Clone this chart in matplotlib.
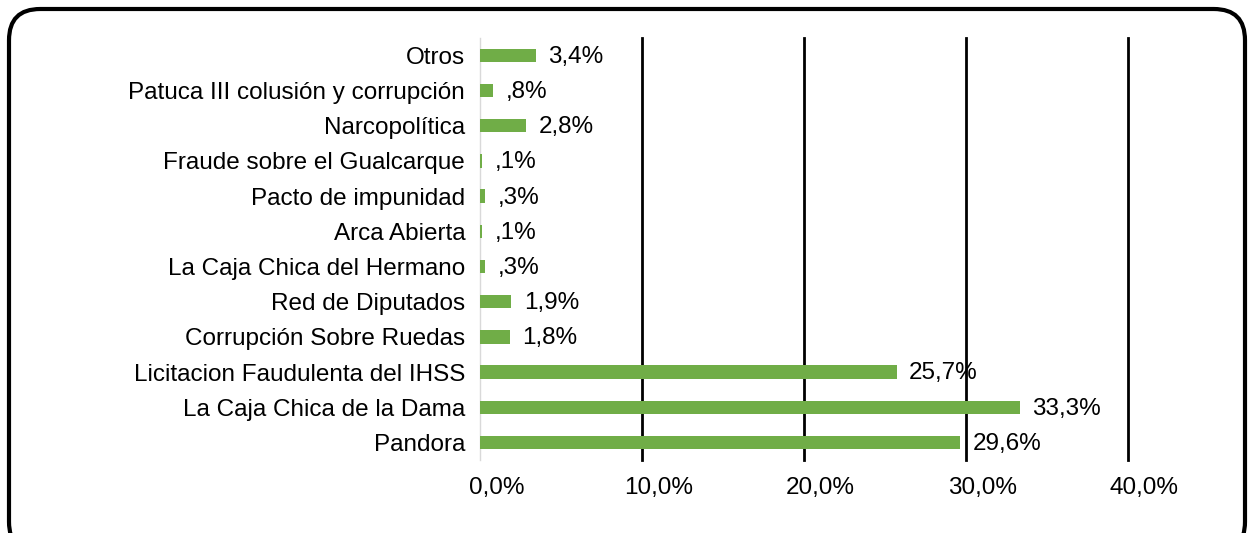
import matplotlib
matplotlib.use("Agg")
import matplotlib.pyplot as plt
from matplotlib.patches import FancyBboxPatch
from matplotlib.ticker import FuncFormatter
from matplotlib.transforms import ScaledTranslation

plt.rcParams['font.family'] = ['Liberation Sans', 'DejaVu Sans']

categorias = [
    "Otros",
    "Patuca III colusión y corrupción",
    "Narcopolítica",
    "Fraude sobre el Gualcarque",
    "Pacto de impunidad",
    "Arca Abierta",
    "La Caja Chica del Hermano",
    "Red de Diputados",
    "Corrupción Sobre Ruedas",
    "Licitacion Faudulenta del IHSS",
    "La Caja Chica de la Dama",
    "Pandora",
]
valores = [3.4, 0.8, 2.8, 0.1, 0.3, 0.1, 0.3, 1.9, 1.8, 25.7, 33.3, 29.6]
etiquetas = ["3,4%", ",8%", "2,8%", ",1%", ",3%", ",1%", ",3%", "1,9%", "1,8%",
             "25,7%", "33,3%", "29,6%"]
ticks_x = [0, 10, 20, 30, 40]

verde = "#70AD47"
fs = 17.5

fig = plt.figure(figsize=(12.48, 5.33), dpi=100)
ax = fig.add_axes([0.385, 0.137, 0.519, 0.792])

y = list(range(len(categorias)))
ax.barh(y, valores, height=0.38, color=verde, zorder=3)
for yi, v, t in zip(y, valores, etiquetas):
    ax.annotate(t, (v, yi), xytext=(9, -1), textcoords="offset points",
                va="center", ha="left", fontsize=fs, zorder=4)

ax.set_ylim(len(categorias) - 0.5, -0.5)
ax.set_xlim(0, 40)
ax.set_yticks(y)
ax.set_yticklabels(categorias, fontsize=fs)
ax.set_xticks(ticks_x)
ax.xaxis.set_major_formatter(FuncFormatter(lambda v, p: f"{v:.1f}%".replace(".", ",")))
ax.tick_params(axis="x", labelsize=fs, length=0, pad=12)
ax.tick_params(axis="y", length=0, pad=11)

# etiquetas del eje x desplazadas a la derecha como en el original
desplazar = ScaledTranslation(16 / 100, 0, fig.dpi_scale_trans)
for lab in ax.get_xticklabels():
    lab.set_transform(lab.get_transform() + desplazar)

for s in ["top", "right", "bottom"]:
    ax.spines[s].set_visible(False)
ax.spines["left"].set_color("#d9d9d9")
ax.spines["left"].set_linewidth(1)

for t in ticks_x[1:]:
    ax.axvline(t, color="black", lw=2, zorder=2, clip_on=False)

borde = FancyBboxPatch((9 / 1248, -20 / 533), 1236 / 1248, 544 / 533,
                       boxstyle="round,pad=0,rounding_size=0.025",
                       transform=fig.transFigure, fill=False,
                       edgecolor="black", lw=3, mutation_aspect=1248 / 533)
fig.patches.append(borde)

fig.savefig("out.png", dpi=100)
